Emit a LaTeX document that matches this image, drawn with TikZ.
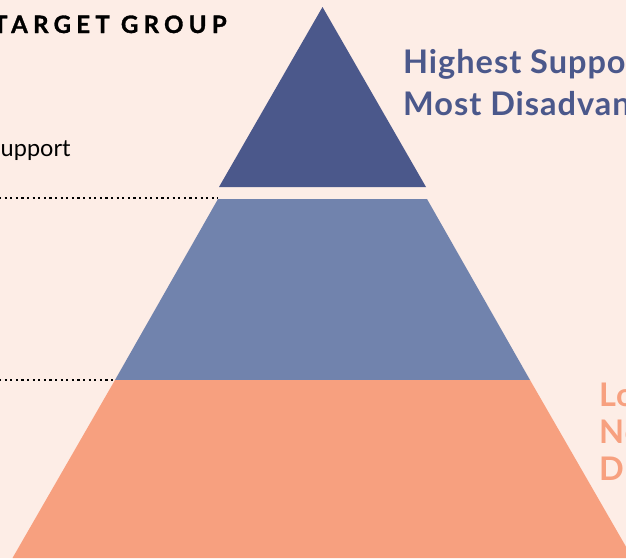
\documentclass[tikz,border=0pt]{standalone}
\usepackage{fontspec}
\setmainfont{Lato}
\newfontfamily\latob{Lato}[UprightFont=* Bold,LetterSpace=3]
\newfontfamily\latosp{Lato}[UprightFont=* Bold,LetterSpace=22,FakeBold=1.3]
\definecolor{bg}{HTML}{FDEDE6}
\definecolor{pdark}{HTML}{4B588B}
\definecolor{pmid}{HTML}{7183AD}
\definecolor{porange}{HTML}{F7A07F}
\begin{document}
\begin{tikzpicture}[x=1pt,y=-1pt,
  band/.style={draw=none},
  dotline/.style={line width=2.2pt,dash pattern=on 2.2pt off 3.4pt},
  bluetext/.style={anchor=base west,inner sep=0pt,text=pdark,font=\fontsize{32.5}{32.5}\latob},
  orangetext/.style={anchor=base west,inner sep=0pt,text=porange,font=\fontsize{32.5}{32.5}\latob},
  smalltext/.style={anchor=base west,inner sep=0pt,font=\fontsize{23.5}{23.5}\selectfont}]
\useasboundingbox (0,0) rectangle (626,558);
\clip (0,0) rectangle (626,558);
\fill[bg] (0,0) rectangle (626,558);
% pyramid bands
\coordinate (apex) at (322.5,7);
\coordinate (tl) at (219,187);
\coordinate (tr) at (426,187);
\coordinate (ml) at (218,199);
\coordinate (mr) at (427,199);
\coordinate (bl) at (115,380);
\coordinate (br) at (530,380);
\coordinate (fl) at (12.5,558);
\coordinate (fr) at (632.5,558);
\fill[pdark,band] (apex) -- (tr) -- (tl) -- cycle;
\fill[pmid,band] (ml) -- (mr) -- (br) -- (bl) -- cycle;
\fill[porange,band] (bl) -- (br) -- (fr) -- (fl) -- cycle;
% dotted guides
\coordinate (d1) at (-1,198);
\coordinate (d2) at (-1,380);
\draw[dotline] (d1) -- (ml |- d1);
\draw[dotline] (d2) -- (bl);
% texts
\node[anchor=base west,inner sep=0pt,font=\fontsize{24}{24}\latosp] (tg) at (-7,33) {TARGET GROUP};
\node[smalltext] (sup) at (-12,156) {Support};
\node[bluetext] (h1) at (403,73) {Highest Support};
\node[bluetext] (h2) at (403,115) {Most Disadvantaged};
\node[orangetext] (o1) at (599,406) {Lowest};
\node[orangetext] (o2) at (599,443) {Not};
\node[orangetext] (o3) at (599,480) {Disadvantaged};
\end{tikzpicture}
\end{document}
